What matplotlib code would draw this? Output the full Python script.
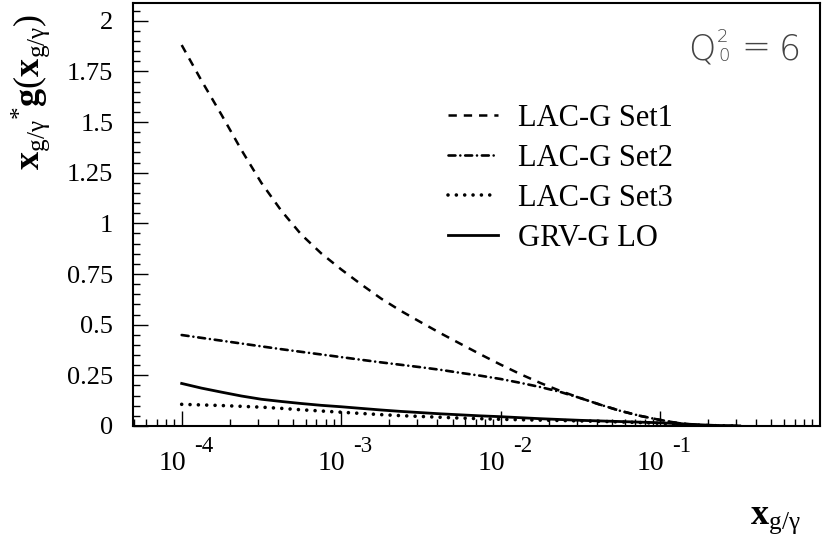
import matplotlib
matplotlib.use('Agg')
import matplotlib.pyplot as plt
from matplotlib.ticker import FixedLocator, LogLocator, MultipleLocator, NullFormatter

plt.rcParams['font.family'] = ['Liberation Serif', 'DejaVu Serif']
plt.rcParams['mathtext.fontset'] = 'custom'
plt.rcParams['mathtext.rm'] = 'Liberation Serif'
plt.rcParams['mathtext.bf'] = 'Liberation Serif:bold'
plt.rcParams['mathtext.it'] = 'Liberation Serif:italic'
plt.rcParams['lines.scale_dashes'] = False

# gluon distributions x*g(x) in the photon at Q0^2 = 6
x_g = [1.00e-4, 1.33e-4, 1.78e-4, 2.37e-4, 3.16e-4, 4.22e-4, 5.62e-4, 7.50e-4,
       1.00e-3, 1.33e-3, 1.78e-3, 2.37e-3, 3.16e-3, 4.22e-3, 5.62e-3, 7.50e-3,
       1.00e-2, 1.33e-2, 1.78e-2, 2.37e-2, 3.16e-2, 4.22e-2, 5.62e-2, 7.50e-2,
       1.00e-1, 1.33e-1, 1.78e-1, 2.37e-1, 3.16e-1]
lac_set1 = [1.880, 1.705, 1.535, 1.362, 1.200, 1.062, 0.945, 0.852,
            0.773, 0.700, 0.629, 0.568, 0.512, 0.457, 0.405, 0.353,
            0.303, 0.256, 0.212, 0.173, 0.138, 0.105, 0.075, 0.050,
            0.030, 0.013, 0.004, 0.001, 0.0]
lac_set2 = [0.449, 0.435, 0.421, 0.407, 0.393, 0.379, 0.366, 0.353,
            0.340, 0.327, 0.314, 0.302, 0.290, 0.277, 0.262, 0.248,
            0.232, 0.213, 0.192, 0.168, 0.138, 0.105, 0.075, 0.050,
            0.030, 0.013, 0.004, 0.001, 0.0]
lac_set3 = [0.107, 0.104, 0.101, 0.097, 0.093, 0.087, 0.080, 0.074,
            0.068, 0.062, 0.056, 0.051, 0.047, 0.043, 0.039, 0.036,
            0.033, 0.031, 0.029, 0.027, 0.025, 0.023, 0.020, 0.017,
            0.013, 0.008, 0.004, 0.001, 0.0]
grv_lo = [0.210, 0.187, 0.167, 0.148, 0.132, 0.121, 0.111, 0.102,
          0.095, 0.087, 0.079, 0.072, 0.066, 0.060, 0.055, 0.050,
          0.046, 0.041, 0.036, 0.032, 0.028, 0.025, 0.022, 0.019,
          0.016, 0.011, 0.006, 0.002, 0.0005]
series_labels = ['LAC-G Set1', 'LAC-G Set2', 'LAC-G Set3', 'GRV-G LO']

decades = [-4, -3, -2, -1]
y_ticks = [0, 0.25, 0.5, 0.75, 1, 1.25, 1.5, 1.75, 2]
y_tick_labels = ['0', '0.25', '0.5', '0.75', '1', '1.25', '1.5', '1.75', '2']

W, H = 823, 536
fig = plt.figure(figsize=(W / 100, H / 100), dpi=100)
ax = fig.add_axes([132.7 / W, 1 - 426 / H, 686.8 / W, 422.7 / H])

ax.plot(x_g, lac_set1, color='black', lw=1.8, ls=(0, (6, 5)), label=series_labels[0])
ax.plot(x_g, lac_set2, color='black', lw=1.9, ls=(0, (5, 3.5, 0.01, 3.5)),
        dash_capstyle='round', label=series_labels[1])
ax.plot(x_g, lac_set3, color='black', lw=2.6, ls=(0, (0.01, 6)),
        dash_capstyle='round', label=series_labels[2])
ax.plot(x_g, grv_lo, color='black', lw=2.0, label=series_labels[3])

ax.set_xscale('log')
ax.set_xlim(4.93e-5, 1.0)
ax.set_ylim(0, 2.086)

for sp in ax.spines.values():
    sp.set_linewidth(1.5)

ax.xaxis.set_major_locator(FixedLocator([10.0 ** d for d in decades]))
ax.xaxis.set_minor_locator(LogLocator(base=10, subs=range(2, 10), numticks=20))
ax.xaxis.set_major_formatter(NullFormatter())
ax.xaxis.set_minor_formatter(NullFormatter())
ax.set_yticks(y_ticks, y_tick_labels)
ax.yaxis.set_minor_locator(MultipleLocator(0.05))

ax.tick_params(which='both', direction='in', top=False, right=False, width=1.0)
ax.tick_params(which='major', length=10.8)
ax.tick_params(which='minor', length=5.2)
ax.tick_params(axis='y', labelsize=19, pad=14)

# decade labels 10^n with a large raised exponent
for d in decades:
    ax.annotate('10', xy=(10.0 ** d, 0), xycoords=('data', 'axes fraction'),
                xytext=(-9.5, -25), textcoords='offset pixels',
                ha='center', va='top', fontsize=20)
    ax.annotate('-%d' % abs(d), xy=(10.0 ** d, 0), xycoords=('data', 'axes fraction'),
                xytext=(22, -10), textcoords='offset pixels',
                ha='center', va='top', fontsize=16.5)

fig.text(31 / W, 1 - 92 / H,
         r'$\mathbf{x}_{\mathrm{g/\gamma}}{}^{*}\mathbf{g}(\mathbf{x}_{\mathrm{g/\gamma}})$',
         rotation=90, ha='center', va='center', fontsize=26)
fig.text(801 / W, 1 - 524 / H, r'$\mathbf{x}_{\mathrm{g/\gamma}}$',
         ha='right', va='baseline', fontsize=26)

# Q0^2 = 6 annotation in a thin sans face
qkw = dict(family='DejaVu Sans', weight=200, color='#444444', va='baseline')
fig.text(688 / W, 1 - 60 / H, 'Q', fontsize=25, **qkw)
fig.text(717 / W, 1 - 42 / H, '2', fontsize=13, **qkw)
fig.text(718 / W, 1 - 61 / H, '0', fontsize=13, **qkw)
fig.text(741 / W, 1 - 58 / H, '=', fontsize=25, **qkw)
fig.text(779 / W, 1 - 60 / H, '6', fontsize=25, **qkw)

ax.legend(loc='upper left', bbox_to_anchor=((448 - 132.7) / 686.8, (426 - 104) / 422.7),
          frameon=False, fontsize=22, handlelength=1.65, handletextpad=0.65,
          labelspacing=0.36, borderpad=0, borderaxespad=0)

fig.savefig('out.png', dpi=100)
